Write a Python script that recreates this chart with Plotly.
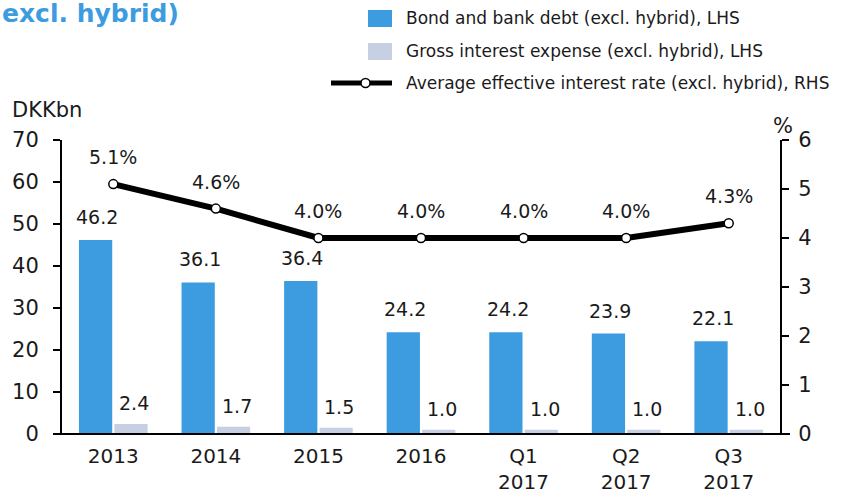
import plotly.graph_objects as go

# Data
categories = ["2013", "2014", "2015", "2016", "Q1<br>2017", "Q2<br>2017", "Q3<br>2017"]
debt = [46.2, 36.1, 36.4, 24.2, 24.2, 23.9, 22.1]
interest_expense = [2.4, 1.7, 1.5, 1.0, 1.0, 1.0, 1.0]
avg_rate = [5.1, 4.6, 4.0, 4.0, 4.0, 4.0, 4.3]

left_ticks = [0, 10, 20, 30, 40, 50, 60, 70]
right_ticks = [0, 1, 2, 3, 4, 5, 6]

BLUE = "#3D9CE0"
GREY = "#C6D0E2"
TEXT = "#1a1a1a"
FONT = "DejaVu Sans"

W, H = 842, 494
ML, MR, MT, MB = 62, 62, 140, 60
PW, PH = W - ML - MR, H - MT - MB


def px(x):
    return (x - ML) / PW


def py(y):
    return (H - MB - y) / PH


fig = go.Figure()

fig.add_trace(go.Bar(
    x=categories, y=debt, name="Bond and bank debt (excl. hybrid), LHS",
    marker=dict(color=BLUE, line=dict(width=0)), yaxis="y", showlegend=False,
))
fig.add_trace(go.Bar(
    x=categories, y=interest_expense, name="Gross interest expense (excl. hybrid), LHS",
    marker=dict(color=GREY, line=dict(width=0)), yaxis="y", showlegend=False,
))
fig.add_trace(go.Scatter(
    x=categories, y=avg_rate, name="Average effective interest rate (excl. hybrid), RHS",
    mode="lines+markers", yaxis="y2", showlegend=False,
    line=dict(color="black", width=6),
    marker=dict(size=9, color="white", line=dict(color="black", width=1.5)),
))

label_font = dict(size=19, color=TEXT, family=FONT)
tick_font = dict(size=21, color=TEXT, family=FONT)
xtick_font = dict(size=20, color=TEXT, family=FONT)
annotations = []
# value labels for the bars (x given as category index)
for i, v in enumerate(debt):
    annotations.append(dict(x=i, y=v, xref="x", yref="y", text=f"{v:.1f}",
                            showarrow=False, xshift=-16, yshift=10, yanchor="bottom",
                            font=label_font))
for i, v in enumerate(interest_expense):
    annotations.append(dict(x=i, y=v, xref="x", yref="y", text=f"{v:.1f}",
                            showarrow=False, xshift=21, yshift=8, yanchor="bottom",
                            font=label_font))
# value labels for the rate line
for i, v in enumerate(avg_rate):
    annotations.append(dict(x=i, y=v, xref="x", yref="y2", text=f"{v:.1f}%",
                            showarrow=False, yshift=14, yanchor="bottom",
                            font=label_font))

# axis unit labels
annotations.append(dict(x=px(10), y=py(110), xref="paper", yref="paper", text="DKKbn",
                        showarrow=False, xanchor="left", yanchor="middle",
                        font=tick_font))
annotations.append(dict(x=px(783), y=py(126), xref="paper", yref="paper", text="%",
                        showarrow=False, xanchor="center", yanchor="middle",
                        font=tick_font))

# title
annotations.append(dict(x=px(0), y=py(-3), xref="paper", yref="paper",
                        text="<b>excl. hybrid)</b>", showarrow=False,
                        xanchor="left", yanchor="top",
                        font=dict(size=25, color=BLUE, family=FONT)))

# legend
legend_rows = [
    (18, "Bond and bank debt (excl. hybrid), LHS"),
    (51, "Gross interest expense (excl. hybrid), LHS"),
    (83, "Average effective interest rate (excl. hybrid), RHS"),
]
for yy, label in legend_rows:
    annotations.append(dict(x=px(404), y=py(yy), xref="paper", yref="paper", text=label,
                            showarrow=False, xanchor="left", yanchor="middle",
                            font=dict(size=17, color=TEXT, family=FONT)))

shapes = [
    dict(type="rect", xref="paper", yref="paper", x0=px(368), x1=px(392),
         y0=py(27), y1=py(10), fillcolor=BLUE, line=dict(width=0)),
    dict(type="rect", xref="paper", yref="paper", x0=px(368), x1=px(392),
         y0=py(60), y1=py(43), fillcolor=GREY, line=dict(width=0)),
    dict(type="line", xref="paper", yref="paper", x0=px(331), x1=px(392),
         y0=py(83), y1=py(83), line=dict(color="black", width=5)),
    dict(type="circle", xref="paper", yref="paper", x0=px(361), x1=px(370),
         y0=py(87.5), y1=py(78.5), fillcolor="white", line=dict(color="black", width=1.5)),
    # baseline
    dict(type="line", xref="paper", yref="paper", x0=px(56), x1=px(790),
         y0=0, y1=0, line=dict(color="black", width=2)),
]

fig.update_layout(
    width=W, height=H,
    margin=dict(l=ML, r=MR, t=MT, b=MB, pad=0, autoexpand=False),
    paper_bgcolor="white", plot_bgcolor="white",
    barmode="group", bargap=0.31, bargroupgap=0.06,
    font=dict(family=FONT, size=19, color=TEXT),
    annotations=annotations, shapes=shapes,
    xaxis=dict(type="category", range=[-0.5, 6.5], showline=False, ticks="",
               showgrid=False, zeroline=False, ticklabelstandoff=8,
               automargin=False, tickfont=xtick_font),
    yaxis=dict(range=[0, 70], tickvals=left_ticks, showgrid=False, zeroline=False,
               showline=True, linecolor="black", linewidth=2,
               ticks="outside", ticklen=7, tickwidth=2, tickcolor="black",
               ticklabelstandoff=10, automargin=False, tickfont=tick_font),
    yaxis2=dict(range=[0, 6], tickvals=right_ticks, overlaying="y", side="right",
                showgrid=False, zeroline=False,
                showline=True, linecolor="black", linewidth=2,
                ticks="outside", ticklen=7, tickwidth=2, tickcolor="black",
                ticklabelstandoff=5, automargin=False, tickfont=tick_font),
)

fig.write_html("out.html")
